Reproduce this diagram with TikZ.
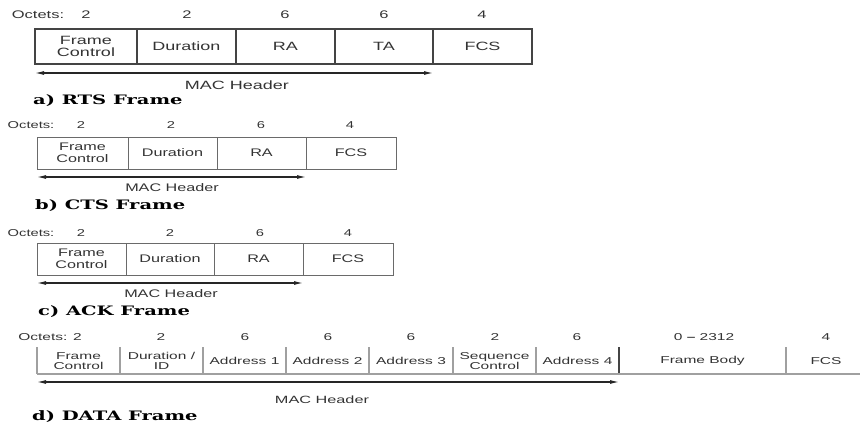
\documentclass[tikz,border=0pt]{standalone}
\usepackage{fontspec}
\setmainfont{Liberation Sans}
\newfontfamily\wideA[FakeStretch=1.5]{Liberation Sans}
\newfontfamily\wideB[FakeStretch=1.47]{Liberation Sans}
\newfontfamily\wideD[FakeStretch=1.55]{Liberation Sans}
\newfontfamily\lblfont[FakeStretch=1.5]{DejaVu Serif}
\usetikzlibrary{arrows.meta}
\definecolor{txt}{HTML}{333333}
\definecolor{lineA}{HTML}{444444}
\definecolor{lineB}{HTML}{6A6A6A}
\definecolor{lineD}{HTML}{A0A0A0}
\begin{document}
\begin{tikzpicture}[x=1pt,y=-1pt,
  cellA/.style={draw=lineA, line width=1.2pt, text=txt, align=center, inner sep=0pt,
    font=\wideA\fontsize{12}{12.5}\selectfont, minimum height=35pt},
  cellB/.style={draw=lineB, line width=1pt, text=txt, align=center, inner sep=0pt,
    font=\wideB\fontsize{11}{11.5}\selectfont, minimum height=32pt},
  cellD/.style={text=txt, align=center, inner sep=0pt,
    font=\wideD\fontsize{10}{10.5}\selectfont},
  octA/.style={text=txt, inner sep=0pt, font=\wideA\fontsize{11}{11}\selectfont},
  octB/.style={text=txt, inner sep=0pt, font=\wideB\fontsize{10}{10}\selectfont},
  octD/.style={text=txt, inner sep=0pt, font=\wideD\fontsize{10}{10}\selectfont},
  macA/.style={text=txt, inner sep=0pt, font=\wideA\fontsize{12}{12}\selectfont},
  macB/.style={text=txt, inner sep=0pt, font=\wideB\fontsize{11}{11}\selectfont},
  macD/.style={text=txt, inner sep=0pt, font=\wideD\fontsize{10.5}{10.5}\selectfont},
  framelbl/.style={anchor=west, inner sep=0pt, font=\lblfont\bfseries\fontsize{13}{13}\selectfont},
  macarrow/.style={draw=black!85, line width=1.1pt, {Latex[length=9pt,width=4pt]}-{Latex[length=9pt,width=4pt]}},
  divD/.style={draw=lineD, line width=1.2pt}
]
\useasboundingbox (0,0) rectangle (860,423);

% ---------- a) RTS ----------
\node[octA] (aoct) at (38,15) {Octets:};
\node[octA] (ao1) at (86,15) {2};
\node[octA] (ao2) at (187,15) {2};
\node[octA] (ao3) at (285,15) {6};
\node[octA] (ao4) at (384,15) {6};
\node[octA] (ao5) at (482,15) {4};
\node[cellA, minimum width=102pt] (afc) at (86,46.5) {Frame\\Control};
\node[cellA, minimum width=99pt] (adu) at (186.5,46.5) {Duration};
\node[cellA, minimum width=99pt] (ara) at (285.5,46.5) {RA};
\node[cellA, minimum width=98pt] (ata) at (384,46.5) {TA};
\node[cellA, minimum width=99pt] (afcs) at (482.5,46.5) {FCS};
\coordinate (aL) at (35,73);
\coordinate (aR) at (433,73);
\draw[macarrow] (aL) -- (aR);
\node[macA] (amac) at (237,85) {MAC Header};
\node[framelbl] (albl) at (33,101) {a) RTS Frame};

% ---------- b) CTS ----------
\node[octB] (boct) at (31,125) {Octets:};
\node[octB] (bo1) at (81,125) {2};
\node[octB] (bo2) at (171,125) {2};
\node[octB] (bo3) at (261,125) {6};
\node[octB] (bo4) at (350,125) {4};
\node[cellB, minimum width=91pt] (bfc) at (82.5,153) {Frame\\Control};
\node[cellB, minimum width=89pt] (bdu) at (172.5,153) {Duration};
\node[cellB, minimum width=89pt] (bra) at (261.5,153) {RA};
\node[cellB, minimum width=90pt] (bfcs) at (351,153) {FCS};
\coordinate (bL) at (37,177);
\coordinate (bR) at (306,177);
\draw[macarrow] (bL) -- (bR);
\node[macB] (bmac) at (172,188) {MAC Header};
\node[framelbl] (blbl) at (35,206) {b) CTS Frame};

% ---------- c) ACK ----------
\node[octB] (coct) at (31,233) {Octets:};
\node[octB] (co1) at (81,233) {2};
\node[octB] (co2) at (170,233) {2};
\node[octB] (co3) at (260,233) {6};
\node[octB] (co4) at (348,233) {4};
\node[cellB, minimum width=89pt] (cfc) at (81.5,259) {Frame\\Control};
\node[cellB, minimum width=88pt] (cdu) at (170,259) {Duration};
\node[cellB, minimum width=89pt] (cra) at (258.5,259) {RA};
\node[cellB, minimum width=90pt] (cfcs) at (348,259) {FCS};
\coordinate (cL) at (37,283);
\coordinate (cR) at (303,283);
\draw[macarrow] (cL) -- (cR);
\node[macB] (cmac) at (171,294) {MAC Header};
\node[framelbl] (clbl) at (38,312) {c) ACK Frame};

% ---------- d) DATA ----------
\node[octD] (doct) at (50,337) {Octets: 2};
\node[octD] (do2) at (161,337) {2};
\node[octD] (do3) at (245,337) {6};
\node[octD] (do4) at (328,337) {6};
\node[octD] (do5) at (411,337) {6};
\node[octD] (do6) at (495,337) {2};
\node[octD] (do7) at (577,337) {6};
\node[octD] (do8) at (704,337) {0 {\bfseries –} 2312};
\node[octD] (do9) at (826,337) {4};
\node[cellD] (dfc) at (78.5,361) {Frame\\Control};
\node[cellD] (ddu) at (161.5,361) {Duration /\\ID};
\node[cellD] (da1) at (244.5,361) {Address 1};
\node[cellD] (da2) at (327.5,361) {Address 2};
\node[cellD] (da3) at (411,361) {Address 3};
\node[cellD] (dsc) at (494.5,361) {Sequence\\Control};
\node[cellD] (da4) at (577.5,361) {Address 4};
\node[cellD] (dbody) at (702.5,361) {Frame Body};
\node[cellD] (dfcs) at (826,361) {FCS};
\foreach \xx in {37,120,203,286,369,453,536,786}
  \draw[divD] (\xx,347) -- (\xx,374);
\draw[draw=lineA, line width=1.3pt] (619,347) -- (619,374);
\draw[divD] (37,374) -- (860,374);
\coordinate (dL) at (37,382);
\coordinate (dR) at (619,382);
\draw[macarrow] (dL) -- (dR);
\node[macD] (dmac) at (322,400) {MAC Header};
\node[framelbl] (dlbl) at (32,417) {d) DATA Frame};
\end{tikzpicture}
\end{document}
